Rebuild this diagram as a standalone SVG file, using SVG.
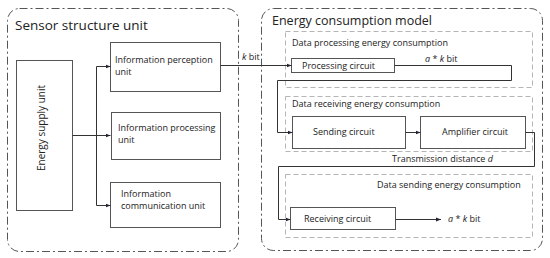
<svg xmlns="http://www.w3.org/2000/svg" width="550" height="258" viewBox="0 0 550 258">
<defs>
<style>
text{font-family:"Open Sans","Noto Sans",sans-serif;fill:#222;}
.t{font-size:13.5px;}
.s{font-size:9px;}
.outer{fill:none;stroke:#555;stroke-width:1;stroke-dasharray:8 3 2 3;}
.inner{fill:none;stroke:#b5b5b5;stroke-width:1;stroke-dasharray:5 3;}
.box{fill:#fff;stroke:#555;stroke-width:1;}
.ln{fill:none;stroke:#333;stroke-width:1;}
.arr{fill:none;stroke:#333;stroke-width:1;marker-end:url(#ah);}
</style>
<marker id="ah" viewBox="0 0 10 10" refX="10" refY="5" markerWidth="5" markerHeight="5" orient="auto" markerUnits="userSpaceOnUse">
<path d="M0,1 L10,5 L0,9 z" fill="#223"/>
</marker>
</defs>
<rect width="550" height="258" fill="#fff"/>
<g id="sensor-structure-unit">
<rect class="outer" x="7.5" y="8.5" width="231" height="243" rx="12"/>
<text class="t" x="15" y="30">Sensor structure unit</text>
</g>
<g id="energy-consumption-model">
<rect class="outer" x="261.5" y="8.5" width="281" height="242" rx="12"/>
<text class="t" x="272" y="25" style="font-size:12.5px">Energy consumption model</text>
</g>
<g id="data-processing">
<rect class="inner" x="285.5" y="31.5" width="247" height="56"/>
<text class="s" x="292" y="46">Data processing energy consumption</text>
</g>
<g id="data-receiving">
<rect class="inner" x="285.5" y="96.5" width="247" height="55"/>
<text class="s" x="292" y="107">Data receiving energy consumption</text>
</g>
<g id="data-sending">
<rect class="inner" x="285.5" y="174.5" width="247" height="63"/>
<text class="s" x="377" y="188">Data sending energy consumption</text>
</g>
<g id="energy-supply-unit">
<rect class="box" x="16.5" y="60.5" width="56" height="150"/>
<text class="s" x="41" y="128" text-anchor="middle" dominant-baseline="central" transform="rotate(-90 41 128)" style="font-size:10px">Energy supply unit</text>
</g>
<g id="information-perception-unit">
<rect class="box" x="110.5" y="42.5" width="110" height="49"/>
<text class="s" x="115" y="63">Information perception</text>
<text class="s" x="115" y="75">unit</text>
</g>
<g id="information-processing-unit">
<rect class="box" x="111.5" y="112.5" width="109" height="47"/>
<text class="s" x="118" y="131">Information processing</text>
<text class="s" x="118" y="143">unit</text>
</g>
<g id="information-communication-unit">
<rect class="box" x="110.5" y="182.5" width="110" height="45"/>
<text class="s" x="121" y="197">Information</text>
<text class="s" x="121" y="209">communication unit</text>
</g>
<g id="processing-circuit">
<rect class="box" x="291.5" y="58.5" width="103" height="14"/>
<text class="s" x="302" y="69">Processing circuit</text>
</g>
<g id="sending-circuit">
<rect class="box" x="292.5" y="116.5" width="113" height="32"/>
<text class="s" x="313" y="135">Sending circuit</text>
</g>
<g id="amplifier-circuit">
<rect class="box" x="420.5" y="116.5" width="105" height="32"/>
<text class="s" x="442" y="135">Amplifier circuit</text>
</g>
<g id="receiving-circuit">
<rect class="box" x="290.5" y="207.5" width="105" height="22"/>
<text class="s" x="304" y="222">Receiving circuit</text>
</g>
<g id="connectors">
<path class="arr" d="M72.5,135.5 H110.5"/>
<path class="ln" d="M96.5,66.5 V205.5"/>
<path class="arr" d="M96.5,66.5 H110.5"/>
<path class="arr" d="M96.5,205.5 H110.5"/>
<path class="arr" d="M220.5,65.5 H291.5"/>
<path class="arr" d="M394.5,65.5 H511.5 V80.5 H277.5 V132.5 H292.5"/>
<path class="arr" d="M405.5,132.5 H420.5"/>
<path class="arr" d="M525.5,132.5 H534.5 V166.5 H278.5 V219.5 H290.5"/>
<path class="arr" d="M395.5,219.5 H441"/>
</g>
<g id="labels">
<text class="s" x="242" y="60"><tspan font-style="italic">k</tspan> bit</text>
<text class="s" x="425" y="62"><tspan font-style="italic">a</tspan> * <tspan font-style="italic">k</tspan> bit</text>
<text class="s" x="392" y="162">Transmission distance <tspan font-style="italic">d</tspan></text>
<text class="s" x="448" y="222"><tspan font-style="italic">a</tspan> * <tspan font-style="italic">k</tspan> bit</text>
</g>
</svg>
